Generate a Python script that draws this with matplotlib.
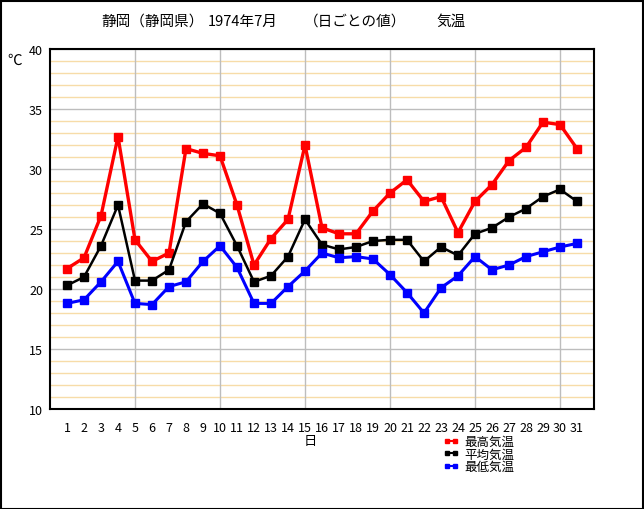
import matplotlib
matplotlib.use("Agg")
import matplotlib.pyplot as plt
from matplotlib.ticker import MultipleLocator
from matplotlib.patches import Rectangle

plt.rcParams['font.family'] = ['Noto Sans CJK JP', 'DejaVu Sans']

days = list(range(1, 32))
t_max = [21.7, 22.6, 26.1, 32.7, 24.1, 22.3, 23.0, 31.7, 31.3, 31.1, 27.0,
         22.0, 24.2, 25.8, 32.0, 25.1, 24.6, 24.6, 26.5, 28.0, 29.1, 27.3,
         27.7, 24.7, 27.3, 28.7, 30.7, 31.8, 33.9, 33.7, 31.7]
t_mean = [20.3, 21.0, 23.6, 27.0, 20.7, 20.7, 21.6, 25.6, 27.1, 26.3, 23.6,
          20.6, 21.1, 22.7, 25.8, 23.7, 23.3, 23.5, 24.0, 24.1, 24.1, 22.3,
          23.5, 22.8, 24.6, 25.1, 26.0, 26.7, 27.7, 28.3, 27.3]
t_min = [18.8, 19.1, 20.6, 22.3, 18.8, 18.7, 20.2, 20.6, 22.3, 23.6, 21.8,
         18.8, 18.8, 20.2, 21.5, 23.0, 22.6, 22.7, 22.5, 21.2, 19.7, 18.0,
         20.1, 21.1, 22.7, 21.6, 22.0, 22.7, 23.1, 23.5, 23.8]
labels = ['最高気温', '平均気温', '最低気温']
title_parts = ['静岡（静岡県）', '1974年7月', '（日ごとの値）', '気温']
vgrid_days = [5, 10, 15, 20, 25, 30]

W, H = 644, 510
fig = plt.figure(figsize=(W / 100, H / 100), dpi=100)
fig.patch.set_facecolor('white')
fig.add_artist(Rectangle((0.5 / W, 0.5 / H), (W - 2) / W, (H - 2) / H,
                         transform=fig.transFigure, fill=False,
                         edgecolor='black', linewidth=1.5))

ax = fig.add_axes([50 / W, 1 - 410 / H, 544 / W, 360 / H])
ax.set_xlim(0, 32)
ax.set_ylim(10, 40)

# grid
ax.yaxis.set_major_locator(MultipleLocator(5))
ax.yaxis.set_minor_locator(MultipleLocator(1))
ax.set_xticks(days)
ax.grid(which='minor', axis='y', color='#f7dca8', linewidth=1.0, zorder=0)
ax.grid(which='major', axis='y', color='#bdbdbd', linewidth=1.0, zorder=0)
ax.grid(which='major', axis='x', visible=False)
for d in vgrid_days:
    ax.axvline(d, color='#bdbdbd', linewidth=1.0, zorder=1)
ax.set_axisbelow(True)

ax.tick_params(which='both', length=0)
ax.tick_params(axis='y', pad=5, labelsize=9)
ax.tick_params(axis='x', pad=9, labelsize=9)
for s in ax.spines.values():
    s.set_linewidth(1.5)
    s.set_color('black')

lmax, = ax.plot(days, t_max, color='#ff0000', linewidth=2.4, marker='s',
                markersize=5.5, zorder=3, label=labels[0])
lmean, = ax.plot(days, t_mean, color='#000000', linewidth=1.8, marker='s',
                 markersize=5.5, zorder=3, label=labels[1])
lmin, = ax.plot(days, t_min, color='#0000ff', linewidth=2.2, marker='s',
                markersize=5.5, zorder=3, label=labels[2])

for part, xpx in zip(title_parts, [101, 208, 304, 436]):
    fig.text(xpx / W, 1 - 22 / H, part, fontsize=10.5, ha='left', va='center')
fig.text(15 / W, 1 - 61 / H, '℃', fontsize=10.5, ha='center', va='center')
fig.text(310 / W, 1 - 441 / H, '日', fontsize=9.5, ha='center', va='center')

leg = fig.legend(handles=[lmax, lmean, lmin], labels=labels,
                 loc='upper left', bbox_to_anchor=(437 / W, 1 - 430 / H),
                 frameon=False, fontsize=9, handlelength=1.2,
                 handletextpad=0.5, labelspacing=-0.05, borderpad=0,
                 numpoints=2, markerscale=0.5)
for h in leg.legend_handles:
    h.set_linewidth(1.5)

fig.savefig('out.png', dpi=100, facecolor='white')
